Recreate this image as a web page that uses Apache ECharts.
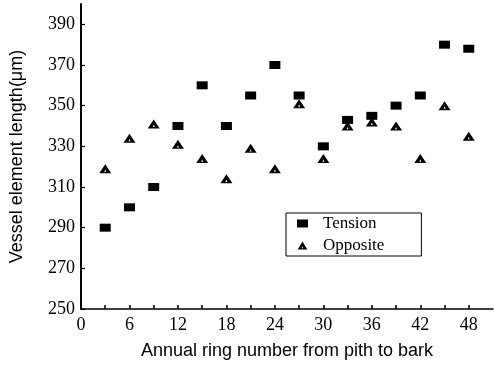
<!DOCTYPE html>
<html>
<head>
<meta charset="utf-8">
<script src="https://cdn.jsdelivr.net/npm/echarts@6/dist/echarts.min.js"></script>
<style>
  html, body { margin: 0; padding: 0; background: #fff; }
  #main { width: 494px; height: 367px; }
</style>
</head>
<body>
<div id="main"></div>
<script>
// 数据
var rings = [3, 6, 9, 12, 15, 18, 21, 24, 27, 30, 33, 36, 39, 42, 45, 48];
var tension = [290, 300, 310, 340, 360, 340, 355, 370, 355, 330, 343, 345, 350, 355, 380, 378];
var opposite = [319, 334, 341, 331, 324, 314, 329, 319, 351, 324, 340, 342, 340, 324, 350, 335];
var xLabels = [0, 6, 12, 18, 24, 30, 36, 42, 48];
var xTicks = [3, 6, 9, 12, 15, 18, 21, 24, 27, 30, 33, 36, 39, 42, 45, 48];
var yLabels = [250, 270, 290, 310, 330, 350, 370, 390];

function pairs(xs, ys) {
    return xs.map(function (x, i) { return [x, ys[i]]; });
}

// 带小白点的三角形
var triPath = 'path://M6,0 L12,10 L0,10 Z M6,6 L5,8.5 L7,8.5 Z';

var myChart = echarts.init(document.getElementById('main'));

var option = {
    backgroundColor: '#fff',
    animation: false,
    grid: {
        left: 79,
        right: 1,
        top: 4,
        bottom: 58
    },
    legend: {
        left: 286,
        top: 213,
        orient: 'vertical',
        itemWidth: 11,
        itemHeight: 8,
        itemGap: 5,
        padding: [2, 37, 2, 11],
        borderColor: '#000',
        borderWidth: 1,
        itemStyle: { opacity: 1 },
        textStyle: {
            fontFamily: 'Liberation Serif',
            fontSize: 17,
            color: '#000',
            padding: [0, 0, 0, 10]
        },
        data: [
            { name: 'Tension', icon: 'rect' },
            { name: 'Opposite', icon: triPath }
        ]
    },
    xAxis: {
        type: 'value',
        min: 0,
        max: 51,
        name: 'Annual ring number from pith to bark',
        nameLocation: 'middle',
        nameGap: 33,
        nameTextStyle: {
            fontFamily: 'Liberation Sans',
            fontSize: 18,
            color: '#000'
        },
        axisLine: { show: true, lineStyle: { color: '#000', width: 1.5 } },
        axisTick: {
            show: true,
            inside: true,
            length: 4,
            customValues: xTicks,
            lineStyle: { color: '#000', width: 1.5 }
        },
        axisLabel: {
            customValues: xLabels,
            margin: 7,
            fontFamily: 'Liberation Serif',
            fontSize: 18,
            color: '#000'
        },
        splitLine: { show: false }
    },
    yAxis: {
        type: 'value',
        min: 250,
        max: 400,
        name: 'Vessel element length(μm)',
        nameLocation: 'middle',
        nameGap: 55,
        nameTextStyle: {
            fontFamily: 'Liberation Sans',
            fontSize: 18,
            color: '#000'
        },
        axisLine: { show: true, lineStyle: { color: '#000', width: 2 } },
        axisTick: {
            show: true,
            inside: true,
            length: 4,
            customValues: yLabels,
            lineStyle: { color: '#000', width: 1.2 }
        },
        axisLabel: {
            customValues: yLabels,
            margin: 6,
            fontFamily: 'Liberation Serif',
            fontSize: 18,
            color: '#000'
        },
        splitLine: { show: false }
    },
    series: [
        {
            name: 'Tension',
            type: 'scatter',
            symbol: 'rect',
            symbolSize: [11, 8],
            itemStyle: { color: '#000', opacity: 1 },
            data: pairs(rings, tension)
        },
        {
            name: 'Opposite',
            type: 'scatter',
            symbol: triPath,
            symbolSize: [12, 9],
            itemStyle: { color: '#000', opacity: 1 },
            data: pairs(rings, opposite)
        }
    ]
};

myChart.setOption(option);
</script>
</body>
</html>
